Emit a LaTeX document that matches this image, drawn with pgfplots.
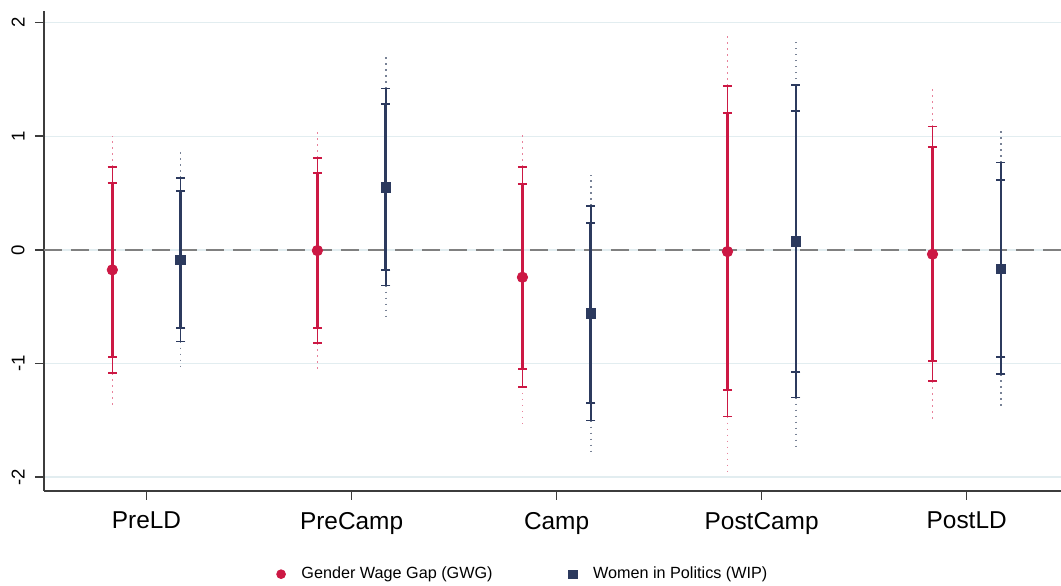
\documentclass[border=0pt]{standalone}
\usepackage{fontspec}
\setmainfont{Liberation Sans}
\usepackage{pgfplots}
\usepackage{pgfplotstable}
\pgfplotsset{compat=1.18}
\definecolor{gwg}{RGB}{204,24,68}
\definecolor{wip}{RGB}{44,58,94}
\definecolor{gwgdot}{RGB}{232,130,155}
\definecolor{wipdot}{RGB}{120,130,150}
\definecolor{gridc}{RGB}{226,237,240}
\definecolor{axc}{RGB}{60,60,60}

\pgfplotstableread{
x y lo90 hi90 lo95 hi95 lo99 hi99
0 -0.176 -0.939 0.587 -1.085 0.733 -1.38 1.00
1 -0.006 -0.69 0.675 -0.82 0.81 -1.08 1.05
2 -0.241 -1.05 0.578 -1.206 0.733 -1.526 1.027
3 -0.015 -1.232 1.209 -1.467 1.446 -1.943 1.89
4 -0.038 -0.974 0.904 -1.156 1.086 -1.511 1.452
}\gwgdata

\pgfplotstableread{
x y lo90 hi90 lo95 hi95 lo99 hi99
0 -0.088 -0.69 0.519 -0.807 0.636 -1.04 0.865
1 0.552 -0.173 1.283 -0.314 1.42 -0.592 1.708
2 -0.56 -1.347 0.235 -1.502 0.387 -1.805 0.66
3 0.073 -1.077 1.224 -1.30 1.45 -1.74 1.87
4 -0.167 -0.942 0.619 -1.094 0.769 -1.40 1.062
}\wipdata

\begin{document}
\begin{tikzpicture}
\useasboundingbox (-22pt,-47.15pt) rectangle (508.5pt,245.35pt);
\begin{axis}[
  at={(0,0)}, anchor=south west,
  width=508.5pt, height=239.85pt, scale only axis,
  xmin=-0.5, xmax=4.46, ymin=-2.12, ymax=2.103,
  axis x line=bottom, axis y line=left,
  axis line style={axc, line width=0.8pt, -},
  xtick={0,1,2,3,4},
  xticklabels={PreLD,PreCamp,Camp,PostCamp,PostLD},
  ytick={-2,-1,0,1,2},
  yticklabels={-2,-1,0,1,2},
  tick align=outside, major tick length=4.5pt,
  tick style={axc, line width=0.8pt},
  ymajorgrids, major grid style={gridc, line width=0.7pt},
  xticklabel style={font=\fontsize{12.2}{14}\selectfont, inner sep=0pt, anchor=north},
  xticklabel shift=6pt,
  yticklabel style={font=\fontsize{9.3}{11}\selectfont, rotate=90, anchor=south, inner sep=0pt},
  yticklabel shift=5pt,
  legend style={draw=none, fill=none, at={(0.472,-0.174)}, anchor=center,
    font=\fontsize{8.1}{10}\selectfont,
    /tikz/every odd column/.append style={column sep=6pt},
    /tikz/every even column/.append style={column sep=36pt}},
  legend columns=2,
]
\addlegendimage{only marks, mark=*, color=gwg, mark size=2.2pt}
\addlegendentry{Gender Wage Gap (GWG)}
\addlegendimage{only marks, mark=square*, color=wip, mark size=2.1pt}
\addlegendentry{Women in Politics (WIP)}

\addplot[forget plot, color=gray, line width=1.3pt, dash pattern=on 9pt off 4.5pt] coordinates {(-0.5,0) (4.46,0)};

% GWG
\addplot[draw=none, forget plot, error bars/.cd, y dir=plus, y explicit, error mark=none,
  error bar style={draw=gwgdot, line width=0.8pt, dash pattern=on 0.8pt off 2.2pt}]
  table[x expr=\thisrow{x}-1/6, y=hi95, y error plus expr=\thisrow{hi99}-\thisrow{hi95}] {\gwgdata};
\addplot[draw=none, forget plot, error bars/.cd, y dir=minus, y explicit, error mark=none,
  error bar style={draw=gwgdot, line width=0.8pt, dash pattern=on 0.8pt off 2.2pt}]
  table[x expr=\thisrow{x}-1/6, y=lo95, y error minus expr=\thisrow{lo95}-\thisrow{lo99}] {\gwgdata};
\addplot[draw=none, forget plot, error bars/.cd, y dir=both, y explicit, error mark=-,
  error mark options={rotate=90, draw=gwg, line width=0.9pt, mark size=2.3pt},
  error bar style={draw=gwg, line width=0.8pt}]
  table[x expr=\thisrow{x}-1/6, y=y, y error plus expr=\thisrow{hi95}-\thisrow{y}, y error minus expr=\thisrow{y}-\thisrow{lo95}] {\gwgdata};
\addplot[draw=none, forget plot, error bars/.cd, y dir=both, y explicit, error mark=-,
  error mark options={rotate=90, draw=gwg, line width=1pt, mark size=2.3pt},
  error bar style={draw=gwg, line width=1.3pt}]
  table[x expr=\thisrow{x}-1/6, y=y, y error plus expr=\thisrow{hi90}-\thisrow{y}, y error minus expr=\thisrow{y}-\thisrow{lo90}] {\gwgdata};
\addplot[forget plot, only marks, mark=*, mark size=2.6pt, color=gwg]
  table[x expr=\thisrow{x}-1/6, y=y] {\gwgdata};

% WIP
\addplot[draw=none, forget plot, error bars/.cd, y dir=plus, y explicit, error mark=none,
  error bar style={draw=wipdot, line width=0.8pt, dash pattern=on 0.8pt off 2.2pt}]
  table[x expr=\thisrow{x}+1/6, y=hi95, y error plus expr=\thisrow{hi99}-\thisrow{hi95}] {\wipdata};
\addplot[draw=none, forget plot, error bars/.cd, y dir=minus, y explicit, error mark=none,
  error bar style={draw=wipdot, line width=0.8pt, dash pattern=on 0.8pt off 2.2pt}]
  table[x expr=\thisrow{x}+1/6, y=lo95, y error minus expr=\thisrow{lo95}-\thisrow{lo99}] {\wipdata};
\addplot[draw=none, forget plot, error bars/.cd, y dir=both, y explicit, error mark=-,
  error mark options={rotate=90, draw=wip, line width=0.9pt, mark size=2.3pt},
  error bar style={draw=wip, line width=0.8pt}]
  table[x expr=\thisrow{x}+1/6, y=y, y error plus expr=\thisrow{hi95}-\thisrow{y}, y error minus expr=\thisrow{y}-\thisrow{lo95}] {\wipdata};
\addplot[draw=none, forget plot, error bars/.cd, y dir=both, y explicit, error mark=-,
  error mark options={rotate=90, draw=wip, line width=1pt, mark size=2.3pt},
  error bar style={draw=wip, line width=1.3pt}]
  table[x expr=\thisrow{x}+1/6, y=y, y error plus expr=\thisrow{hi90}-\thisrow{y}, y error minus expr=\thisrow{y}-\thisrow{lo90}] {\wipdata};
\addplot[forget plot, only marks, mark=square*, mark size=2.4pt, color=wip]
  table[x expr=\thisrow{x}+1/6, y=y] {\wipdata};
\end{axis}
\end{tikzpicture}
\end{document}
